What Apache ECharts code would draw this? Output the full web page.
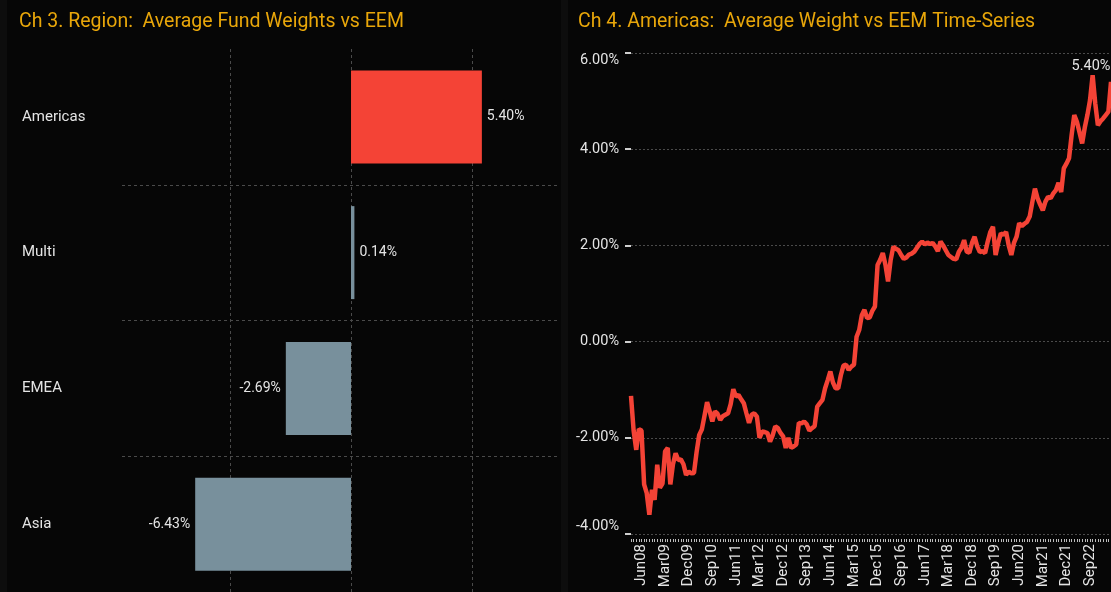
<!DOCTYPE html>
<html><head><meta charset="utf-8">
<script src="https://cdn.jsdelivr.net/npm/echarts@6/dist/echarts.min.js"></script>
<style>html,body{margin:0;padding:0;background:#060606;}#c{width:1111px;height:592px;}</style>
</head><body><div id="c"></div>
<script>
// ---- Chart 3: region weights vs EEM ----
const regions = ['Americas', 'Multi', 'EMEA', 'Asia'];
const regionWeights = [5.40, 0.14, -2.69, -6.43];
const regionColors = ['#F44336', '#78909C', '#78909C', '#78909C'];
const regionGridValues = [-5, 0, 5];

// ---- Chart 4: Americas average weight vs EEM, monthly from Feb 2008 ----
const startYear = 2008;
const startMonthIndex = 1; // Feb
const monthNames = ['Jan','Feb','Mar','Apr','May','Jun','Jul','Aug','Sep','Oct','Nov','Dec'];
const americasWeights = [
  -1.13,-1.85,-2.25,-1.82,-1.85,-2.97,-3.15,-3.60,-3.08,-3.29,-2.56,-3.04,-2.95,-2.28,-2.21,-2.97,
  -2.55,-2.32,-2.46,-2.45,-2.55,-2.77,-2.70,-2.74,-2.73,-2.30,-1.94,-1.83,-1.55,-1.26,-1.45,-1.66,
  -1.45,-1.50,-1.63,-1.55,-1.52,-1.49,-1.30,-0.99,-1.14,-1.11,-1.20,-1.28,-1.49,-1.69,-1.52,-1.49,
  -1.56,-2.00,-1.87,-1.88,-1.90,-2.08,-1.95,-1.76,-1.80,-1.90,-1.97,-2.21,-2.00,-2.21,-2.18,-2.14,
  -1.69,-1.70,-1.66,-1.72,-1.85,-1.80,-1.76,-1.35,-1.28,-1.21,-0.97,-0.80,-0.62,-0.85,-0.97,-0.97,
  -0.70,-0.50,-0.48,-0.59,-0.52,-0.48,0.10,0.24,0.55,0.66,0.49,0.50,0.64,0.73,1.59,1.70,
  1.84,1.60,1.25,1.70,1.97,1.93,1.90,1.80,1.72,1.75,1.81,1.83,1.87,1.95,2.03,2.08,
  2.02,2.06,2.03,2.05,1.98,1.88,2.08,2.00,1.90,1.80,1.76,1.72,1.71,1.87,1.95,2.11,
  1.87,1.85,2.05,2.18,1.98,1.86,1.88,1.84,2.08,2.28,2.39,1.80,2.05,2.25,2.22,2.28,
  2.00,1.80,2.05,2.18,2.46,2.40,2.45,2.49,2.60,2.90,3.18,2.98,2.85,2.73,2.91,3.01,
  2.98,3.08,3.15,3.30,3.11,3.60,3.70,3.81,4.30,4.71,4.57,4.35,4.12,4.45,4.71,5.02,
  5.54,4.95,4.50,4.58,4.64,4.71,4.78,5.40
];
const firstLabelIndex = 4;   // Jun08
const labelEvery = 9;        // every 9 months
const yMin = -4, yMax = 6, yStep = 2;

const months = americasWeights.map((_, i) => {
  const m = startMonthIndex + i;
  const y = startYear + Math.floor(m / 12);
  return monthNames[m % 12] + String(y % 100).padStart(2, '0');
});

const FONT = 'Roboto, "Noto Sans", sans-serif';
const TXT = '#e4e4e4';
const GRIDC = '#4a4a4a';
const TITLEC = '#E8A60A';

const barData = regionWeights.map((v, i) => ({
  value: v,
  itemStyle: { color: regionColors[i] },
  label: { position: v >= 0 ? 'right' : 'left' }
}));

const lastIdx = americasWeights.length - 1;
const lastVal = americasWeights[lastIdx];

const chart = echarts.init(document.getElementById('c'), null, { renderer: 'canvas' });
chart.setOption({
  backgroundColor: '#060606',
  animation: false,
  textStyle: { fontFamily: FONT },
  graphic: [
    { type: 'rect', shape: { x: 0, y: 0, width: 7, height: 592 }, style: { fill: '#0d0d0d' }, silent: true },
    { type: 'rect', shape: { x: 561, y: 0, width: 7, height: 592 }, style: { fill: '#0d0d0d' }, silent: true }
  ],
  title: [
    { text: 'Ch 3. Region:  Average Fund Weights vs EEM', left: 19, top: 12, padding: 0,
      textStyle: { color: TITLEC, fontSize: 19.5, fontWeight: 'normal', fontFamily: FONT } },
    { text: 'Ch 4. Americas:  Average Weight vs EEM Time-Series', left: 578, top: 12, padding: 0,
      textStyle: { color: TITLEC, fontSize: 19.5, fontWeight: 'normal', fontFamily: FONT } }
  ],
  grid: [
    { left: 122, width: 435, top: 49, height: 543, containLabel: false },
    { left: 631, right: 0, top: 53, bottom: 58, containLabel: false }
  ],
  xAxis: [
    { type: 'value', gridIndex: 0, min: -9.45, max: 8.5,
      axisLine: { show: false }, axisLabel: { show: false },
      axisTick: { show: false, customValues: regionGridValues },
      splitLine: { show: true, lineStyle: { color: GRIDC, type: [3, 3], width: 1 } } },
    { type: 'category', gridIndex: 1, data: months, boundaryGap: false, offset: 5,
      axisLine: { show: false, onZero: false },
      axisTick: { show: true, interval: 0, length: 3, lineStyle: { color: '#bdbdbd', width: 1 } },
      axisLabel: { rotate: 90, color: TXT, fontSize: 15, fontFamily: FONT, margin: 5,
        interval: (idx) => idx >= firstLabelIndex && (idx - firstLabelIndex) % labelEvery === 0 },
      splitLine: { show: false } }
  ],
  yAxis: [
    { type: 'category', gridIndex: 0, data: regions, inverse: true,
      axisLine: { show: false }, axisTick: { show: false },
      axisLabel: { color: TXT, fontSize: 15, fontFamily: FONT, align: 'left', margin: 100 },
      splitLine: { show: true, showMinLine: false, showMaxLine: false,
        lineStyle: { color: GRIDC, type: [3, 3], width: 1 } } },
    { type: 'value', gridIndex: 1, min: yMin, max: yMax, interval: yStep,
      axisLine: { show: false },
      axisTick: { show: true, length: 6, lineStyle: { color: '#cfcfcf', width: 2 } },
      axisLabel: { color: TXT, fontSize: 14.5, fontFamily: FONT, margin: 12,
        formatter: v => v.toFixed(2) + '%',
        verticalAlignMaxLabel: 'top', verticalAlignMinLabel: 'bottom' },
      splitLine: { show: true, lineStyle: { color: GRIDC, type: [2, 2], width: 1 } } }
  ],
  series: [
    { type: 'bar', xAxisIndex: 0, yAxisIndex: 0, data: barData, barWidth: 93,
      label: { show: true, color: TXT, fontSize: 14, fontFamily: FONT, distance: 5,
        formatter: p => p.value.toFixed(2) + '%' } },
    { type: 'line', xAxisIndex: 1, yAxisIndex: 1, data: americasWeights, showSymbol: false,
      symbol: 'none', lineStyle: { color: '#F44336', width: 4.5 }, itemStyle: { color: '#F44336' },
      markPoint: {
        symbol: 'circle', symbolSize: 0, silent: true,
        data: [{ coord: [lastIdx, lastVal], value: lastVal }],
        label: { show: true, position: 'top', offset: [-20, -8], distance: 0,
          color: TXT, fontSize: 14.5, fontFamily: FONT,
          formatter: p => Number(p.value).toFixed(2) + '%' }
      } }
  ]
});
</script></body></html>
